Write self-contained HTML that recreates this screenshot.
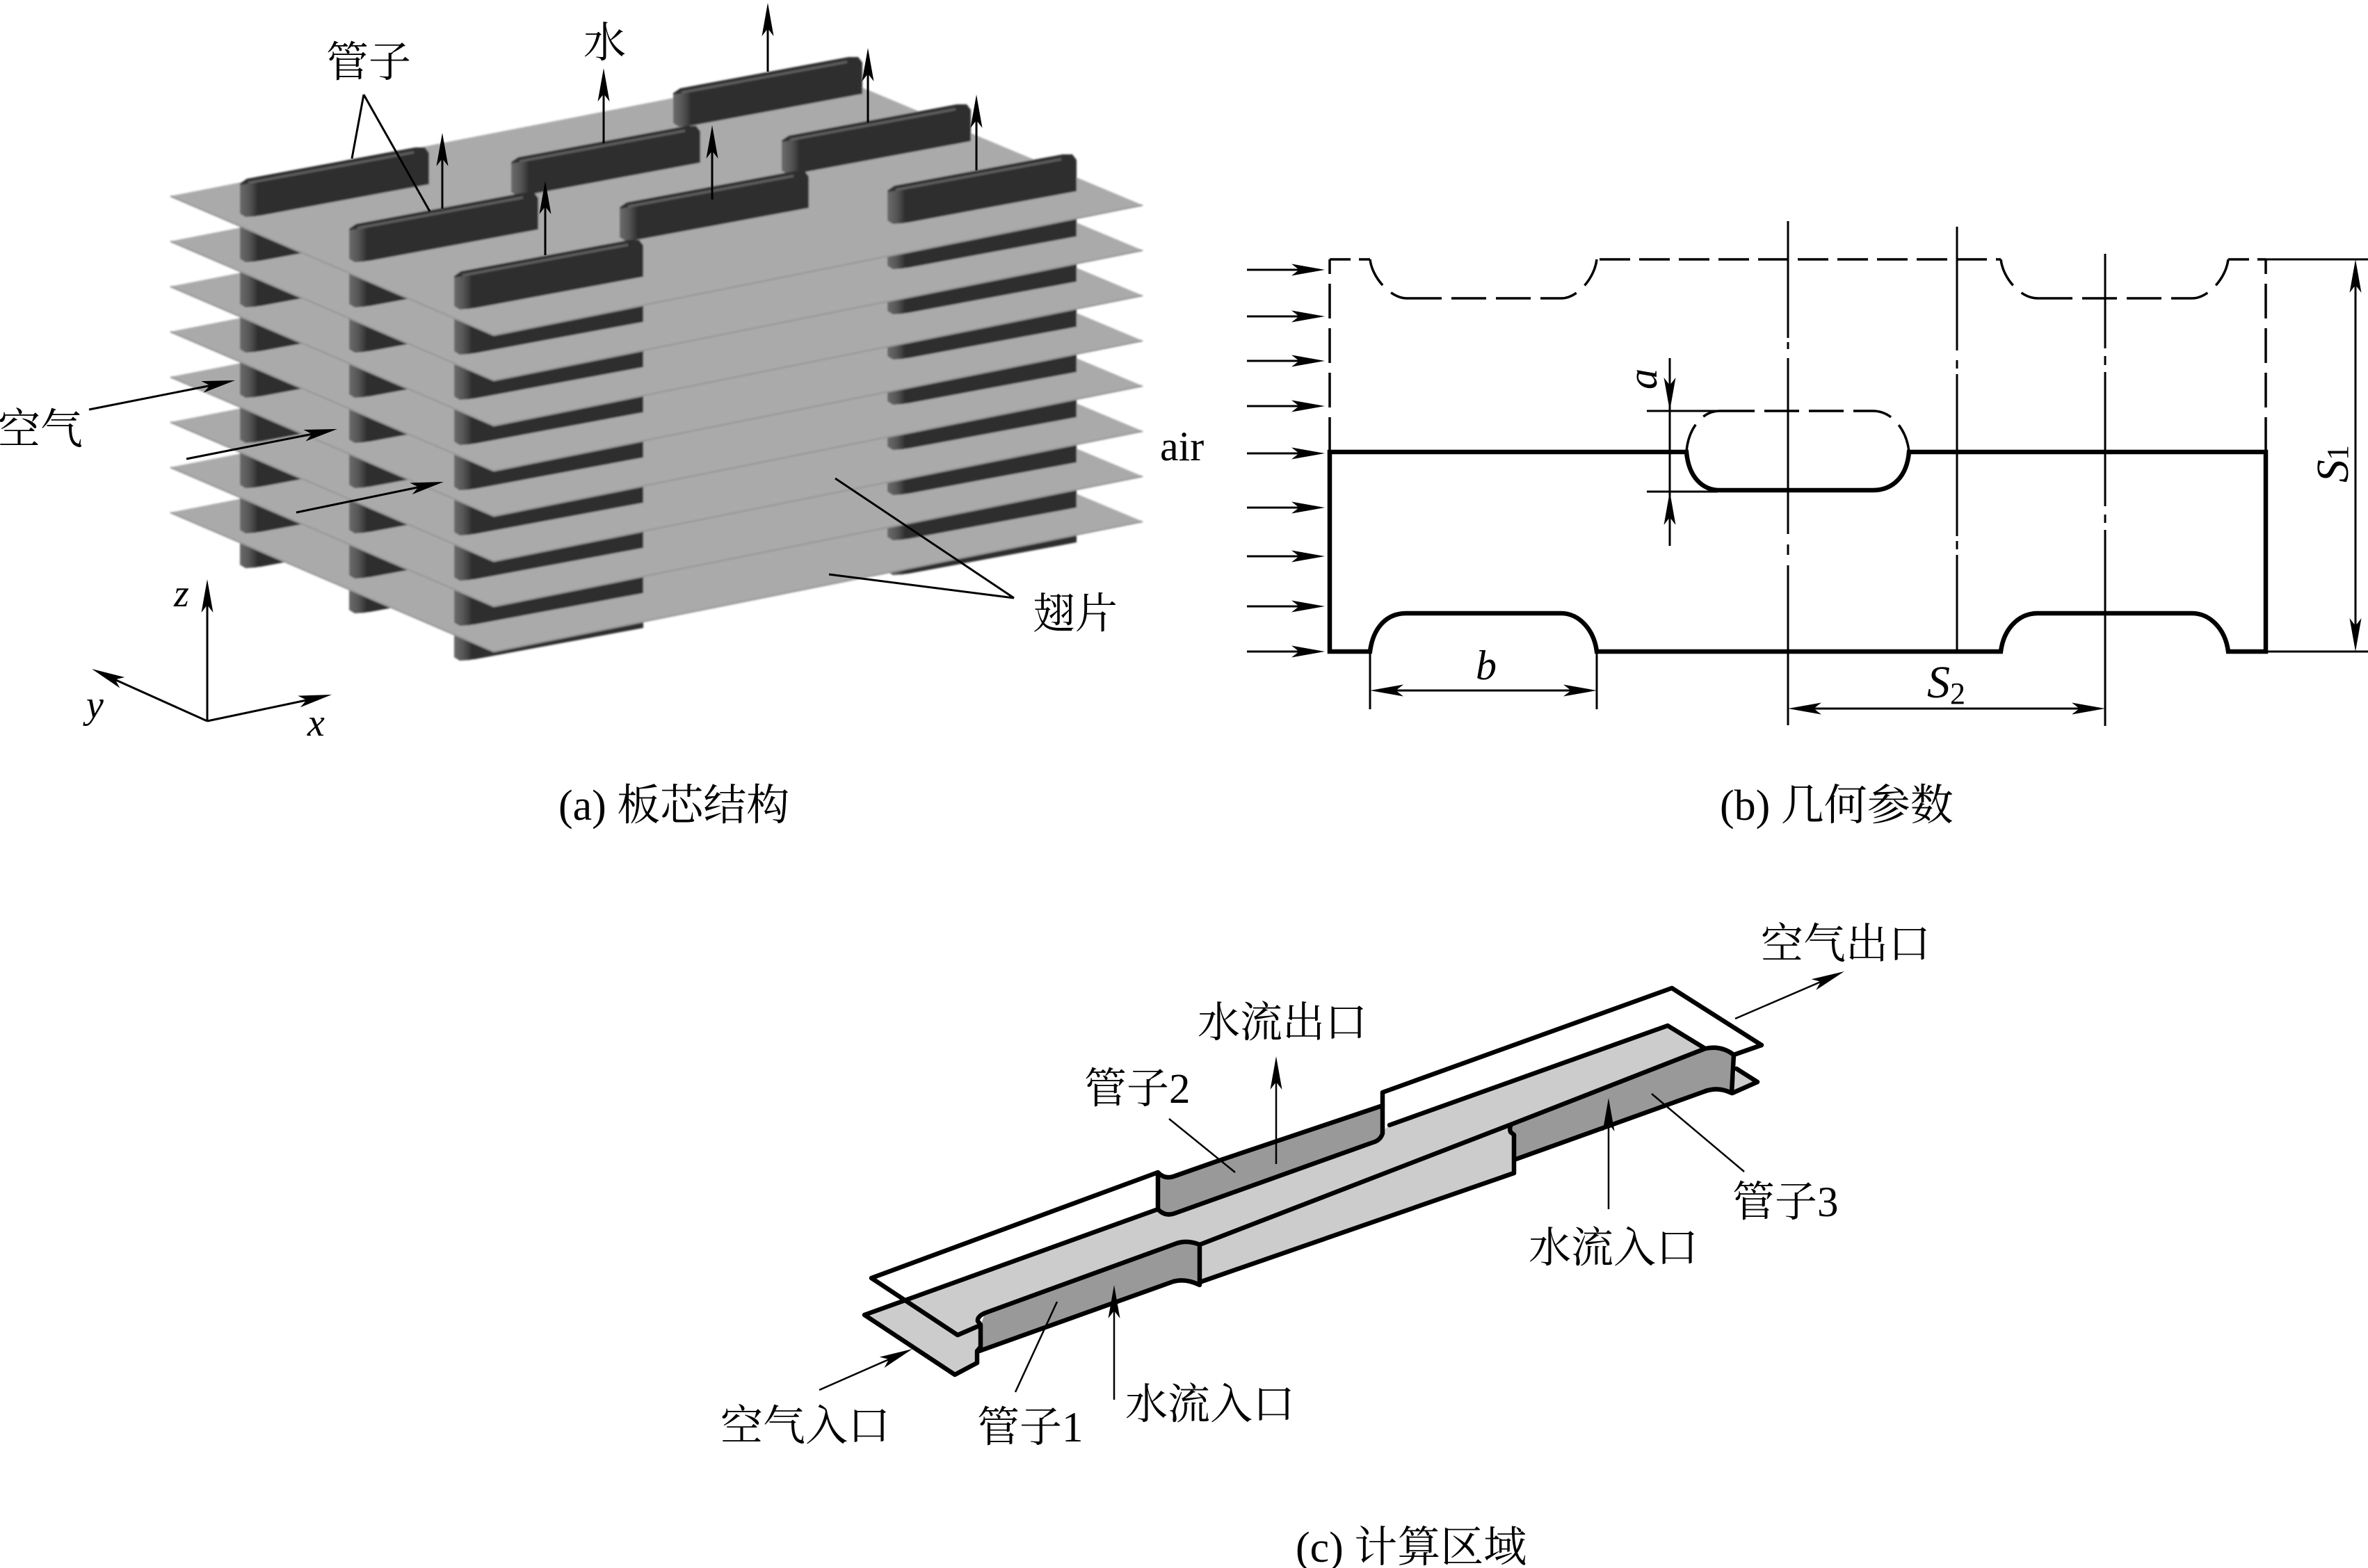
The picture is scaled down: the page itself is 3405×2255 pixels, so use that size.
<!DOCTYPE html>
<html>
<head>
<meta charset="utf-8">
<style>
html,body{margin:0;padding:0;background:#fff;width:3405px;height:2255px;overflow:hidden}
svg{display:block}
text{font-family:"Liberation Serif","Noto Serif CJK SC",serif;fill:#000}
.i{font-style:italic}
</style>
</head>
<body>
<svg width="3405" height="2255" viewBox="0 0 3405 2255" xmlns="http://www.w3.org/2000/svg">
<defs>
<filter id="soft" x="-5%" y="-5%" width="110%" height="110%"><feGaussianBlur stdDeviation="1.3"/></filter>
<polygon id="h" points="0,0 -48,-8.5 -37,0 -48,8.5" fill="#000"/>
<linearGradient id="endg" x1="0" x2="1" y1="0" y2="0">
<stop offset="0" stop-color="#6a6a6a"/><stop offset="0.55" stop-color="#565656"/><stop offset="1" stop-color="#363636"/>
</linearGradient>
<g id="seg">
<polygon points="0,-70 272,-118 272,-45 30,0 8,2 0,-3" fill="#2e2e2e"/>
<polygon points="0,-70 24,-74 24,1 8,2 0,-3" fill="url(#endg)"/>
</g>
<g id="tube">
<polygon points="0,-46 10,-53 252,-98 266,-98 272,-90 272,-45 30,0 8,2 0,-3" fill="#2e2e2e"/>
<polygon points="0,-44 24,-48 24,1 8,2 0,-3" fill="url(#endg)"/>
<line x1="12" y1="-47" x2="250" y2="-91" stroke="#5e5e5e" stroke-width="3.5"/>
</g>
<g id="segs">
<use href="#seg" transform="translate(345,310)"/>
<use href="#seg" transform="translate(502,375)"/>
<use href="#seg" transform="translate(653,443)"/>
<use href="#seg" transform="translate(1276,320)"/>
</g>
<g id="plate">
<polygon points="245,282 1178,100 1643,295 710,482" fill="#aaaaaa"/>
<polyline points="245,282 710,482 1643,295" fill="none" stroke="#999999" stroke-width="2.5"/>
</g>
</defs>

<!-- (a) stack, drawn bottom to top -->
<g filter="url(#soft)">
<use href="#segs" y="505"/><use href="#plate" y="455"/>
<use href="#segs" y="455"/><use href="#plate" y="390"/>
<use href="#segs" y="390"/><use href="#plate" y="325"/>
<use href="#segs" y="325"/><use href="#plate" y="260"/>
<use href="#segs" y="260"/><use href="#plate" y="195"/>
<use href="#segs" y="195"/><use href="#plate" y="130"/>
<use href="#segs" y="130"/><use href="#plate" y="65"/>
<use href="#segs" y="65"/><use href="#plate" y="0"/>

<use href="#tube" transform="translate(968,180)"/>
<use href="#tube" transform="translate(735,279)"/>
<use href="#tube" transform="translate(1124,248)"/>
<use href="#tube" transform="translate(345,310)"/>
<use href="#tube" transform="translate(891,344)"/>
<use href="#tube" transform="translate(502,375)"/>
<use href="#tube" transform="translate(1276,320)"/>
<use href="#tube" transform="translate(653,443)"/>
</g>

<g stroke="#000" stroke-width="3" fill="none">
<line x1="1104" y1="103" x2="1104" y2="20"/>
<line x1="1248" y1="176" x2="1248" y2="90"/>
<line x1="1404" y1="245" x2="1404" y2="160"/>
<line x1="868" y1="206" x2="868" y2="120"/>
<line x1="1024" y1="287" x2="1024" y2="200"/>
<line x1="636" y1="300" x2="636" y2="215"/>
<line x1="784" y1="367" x2="784" y2="280"/>
<line x1="523" y1="136" x2="506" y2="228"/>
<line x1="523" y1="136" x2="618" y2="304"/>
<line x1="128" y1="589" x2="305" y2="554"/>
<line x1="268" y1="660" x2="450" y2="624"/>
<line x1="426" y1="737" x2="605" y2="700"/>
<line x1="1201" y1="688" x2="1458" y2="860"/>
<line x1="1192" y1="826" x2="1458" y2="860"/>
<line x1="298" y1="1037" x2="298" y2="860"/>
<line x1="298" y1="1037" x2="160" y2="975"/>
<line x1="298" y1="1037" x2="450" y2="1005"/>
</g>
<use href="#h" transform="translate(1104,4) rotate(-90)"/>
<use href="#h" transform="translate(1248,69) rotate(-90)"/>
<use href="#h" transform="translate(1404,136) rotate(-90)"/>
<use href="#h" transform="translate(868,98) rotate(-90)"/>
<use href="#h" transform="translate(1024,180) rotate(-90)"/>
<use href="#h" transform="translate(636,191) rotate(-90)"/>
<use href="#h" transform="translate(784,260) rotate(-90)"/>
<use href="#h" transform="translate(338,547) rotate(-11.3)"/>
<use href="#h" transform="translate(485,617) rotate(-11.2)"/>
<use href="#h" transform="translate(638,693) rotate(-11.7)"/>
<use href="#h" transform="translate(298,833) rotate(-90)"/>
<use href="#h" transform="translate(132,962) rotate(204.3)"/>
<use href="#h" transform="translate(477,999) rotate(-12)"/>

<g font-size="61">
<text x="469" y="110">管子</text>
<text x="839" y="82">水</text>
<text x="-3" y="638">空气</text>
<text x="1485" y="903">翅片</text>
<text x="1668" y="662" font-size="60">air</text>
<text x="803" y="1179" font-size="62">(a) 板芯结构</text>
<text x="2473" y="1179" font-size="62">(b) 几何参数</text>
<text x="1863" y="2246" font-size="62">(c) 计算区域</text>
</g>
<g font-size="56" class="i">
<text x="250" y="872">z</text>
<text x="124" y="1032">y</text>
<text x="442" y="1058">x</text>
</g>

<!-- (b) geometry -->
<g fill="none" stroke="#000">
<path d="M1912,650 H2425 C2428,685 2447,705 2473,705 H2693 C2722,705 2742,685 2745,650 H3258 V937 H3204 C3200,905 3178,882 3152,882 H2930 C2902,882 2881,905 2877,937 H2296 C2292,905 2270,882 2245,882 H2022 C1992,882 1974,905 1970,937 H1912 Z" stroke-width="6.5" stroke-linejoin="miter"/>
<g stroke-width="3.5" stroke-dasharray="50,14">
<path d="M1912,650 V373"/>
<path d="M3258,650 V373"/>
<path d="M2023,429 H2245"/>
<path d="M2930,429 H3152"/>
<path d="M2473,591 H2693"/>
<path d="M2300,373 H2877" stroke-dasharray="44,13"/>
<path d="M1912,373 H1970" stroke-dasharray="30,12"/>
<path d="M3204,373 H3258" stroke-dasharray="30,12"/>
</g>
<g stroke-width="3.5" stroke-dasharray="42,16">
<path d="M1970,373 C1973,400 2000,429 2023,429"/>
<path d="M2296,373 C2293,400 2268,429 2245,429"/>
<path d="M2877,373 C2880,400 2905,429 2930,429"/>
<path d="M3204,373 C3201,400 3175,429 3152,429"/>
<path d="M2425,650 C2427,620 2445,591 2473,591"/>
<path d="M2745,650 C2742,620 2722,591 2693,591"/>
</g>
<g stroke-width="3">
<path d="M2571,318 V486 M2571,492 V502 M2571,515 V768 M2571,783 V798 M2571,813 V1043"/>
<path d="M2814,326 V504 M2814,518 V530 M2814,538 V771 M2814,778 V790 M2814,798 V937"/>
<path d="M3027,365 V501 M3027,512 V525 M3027,535 V728 M3027,740 V752 M3027,762 V1044"/>
<path d="M2401,515 V785"/>
<path d="M2368,591 H2480"/>
<path d="M2368,707 H2470"/>
<path d="M1970,937 V1020"/>
<path d="M2296,937 V1020"/>
<path d="M1985,993 H2285"/>
<path d="M2590,1019 H3010"/>
<path d="M3258,373 H3405"/>
<path d="M3258,937 H3405"/>
<path d="M3387,395 V915"/>
<path d="M1793,388 H1880 M1793,455 H1880 M1793,519 H1880 M1793,584 H1880 M1793,652 H1880 M1793,730 H1880 M1793,800 H1880 M1793,872 H1880 M1793,937 H1880"/>
</g>
</g>
<use href="#h" transform="translate(1905,388)"/>
<use href="#h" transform="translate(1905,455)"/>
<use href="#h" transform="translate(1905,519)"/>
<use href="#h" transform="translate(1905,584)"/>
<use href="#h" transform="translate(1905,652)"/>
<use href="#h" transform="translate(1905,730)"/>
<use href="#h" transform="translate(1905,800)"/>
<use href="#h" transform="translate(1905,872)"/>
<use href="#h" transform="translate(1905,937)"/>
<use href="#h" transform="translate(2401,591) rotate(90)"/>
<use href="#h" transform="translate(2401,707) rotate(-90)"/>
<use href="#h" transform="translate(1970,993) rotate(180)"/>
<use href="#h" transform="translate(2296,993)"/>
<use href="#h" transform="translate(2571,1019) rotate(180)"/>
<use href="#h" transform="translate(3027,1019)"/>
<use href="#h" transform="translate(3387,373) rotate(-90)"/>
<use href="#h" transform="translate(3387,937) rotate(90)"/>

<g font-size="60" class="i">
<text x="2122" y="977">b</text>
<text transform="translate(2382,560) rotate(-90)">a</text>
</g>
<g font-size="66" class="i">
<text x="2771" y="1003">S</text>
<text transform="translate(3376,694) rotate(-90)">S</text>
</g>
<g font-size="44">
<text x="2804" y="1012">2</text>
<text transform="translate(3376,662) rotate(-90)">1</text>
</g>

<!-- (c) computational domain -->
<path d="M1243,1891 L1665,1739 Q1675,1750 1689,1745 L1974,1643 Q1988,1636 1986,1628 L1998,1618 L2398,1475 L2452,1508 L2173,1617 Q2170,1622 2172,1628 L2177,1632 V1687 L1725,1844 V1790 Q1708,1783 1692,1788 L1417,1888 Q1405,1893 1406,1900 L1410,1905 V1937 L1403,1943 V1960 L1373,1977 Z" fill="#cccccc"/>
<path d="M2497,1537 L2527,1556 L2491,1572 Z" fill="#cccccc"/>
<path d="M1412,1900 L1417,1888 L1692,1788 Q1708,1783 1725,1790 V1848 Q1705,1838 1687,1843 L1408,1943 Z" fill="#999999"/>
<path d="M1665,1686 Q1675,1697 1690,1691 L1750,1670 L1988,1590 V1630 Q1985,1640 1974,1643 L1689,1745 Q1675,1750 1665,1739 Z" fill="#999999"/>
<path d="M2173,1620 L2452,1508 Q2475,1503 2493,1517 L2490,1572 Q2470,1562 2450,1570 L2180,1667 Z" fill="#999999"/>
<g fill="none" stroke="#000" stroke-width="6.5" stroke-linejoin="round" stroke-linecap="round">
<path d="M1407,1907 L1377,1920 L1253,1838 L1665,1686 Q1675,1697 1690,1691 L1750,1670 L1988,1590 V1630 Q1985,1640 1974,1643 L1689,1745 Q1675,1750 1665,1739 V1686"/>
<path d="M1988,1590 V1571 L2404,1421 L2533,1503 L2493,1517"/>
<path d="M1665,1739 L1243,1891 L1373,1977 L1405,1960 V1943 L1410,1937 V1905 L1406,1900 Q1405,1893 1417,1888 L1692,1788 Q1708,1783 1725,1790 V1848 Q1705,1838 1687,1843 L1408,1943"/>
<path d="M1725,1790 L2173,1617 Q2170,1622 2172,1628 L2177,1632 V1687 L1725,1844"/>
<path d="M1998,1618 L2398,1475 L2452,1508 L2173,1617"/>
<path d="M2452,1508 Q2475,1503 2493,1517 L2490,1572 Q2470,1562 2450,1570 L2180,1667"/>
<path d="M2497,1537 L2527,1556 L2491,1572"/>
</g>
<g fill="none" stroke="#000" stroke-width="2.5">
<path d="M1178,1999 L1285,1952"/>
<path d="M2495,1465 L2625,1409"/>
<path d="M1520,1872 L1460,2002"/>
<path d="M1602,2013 V1885"/>
<path d="M1835,1674 V1555"/>
<path d="M1681,1609 L1776,1686"/>
<path d="M2375,1573 L2508,1685"/>
<path d="M2313,1739 V1615"/>
</g>
<use href="#h" transform="translate(1312,1940) rotate(-23.8)"/>
<use href="#h" transform="translate(2652,1397) rotate(-23.4)"/>
<use href="#h" transform="translate(1602,1848) rotate(-90)"/>
<use href="#h" transform="translate(1835,1519) rotate(-90)"/>
<use href="#h" transform="translate(2313,1579) rotate(-90)"/>

<g font-size="61">
<text x="2532" y="1378">空气出口</text>
<text x="1722" y="1491">水流出口</text>
<text x="1559" y="1586">管子2</text>
<text x="2491" y="1749">管子3</text>
<text x="2198" y="1815">水流入口</text>
<text x="1618" y="2040">水流入口</text>
<text x="1036" y="2071">空气入口</text>
<text x="1405" y="2073">管子1</text>
</g>
</svg>
</body>
</html>
